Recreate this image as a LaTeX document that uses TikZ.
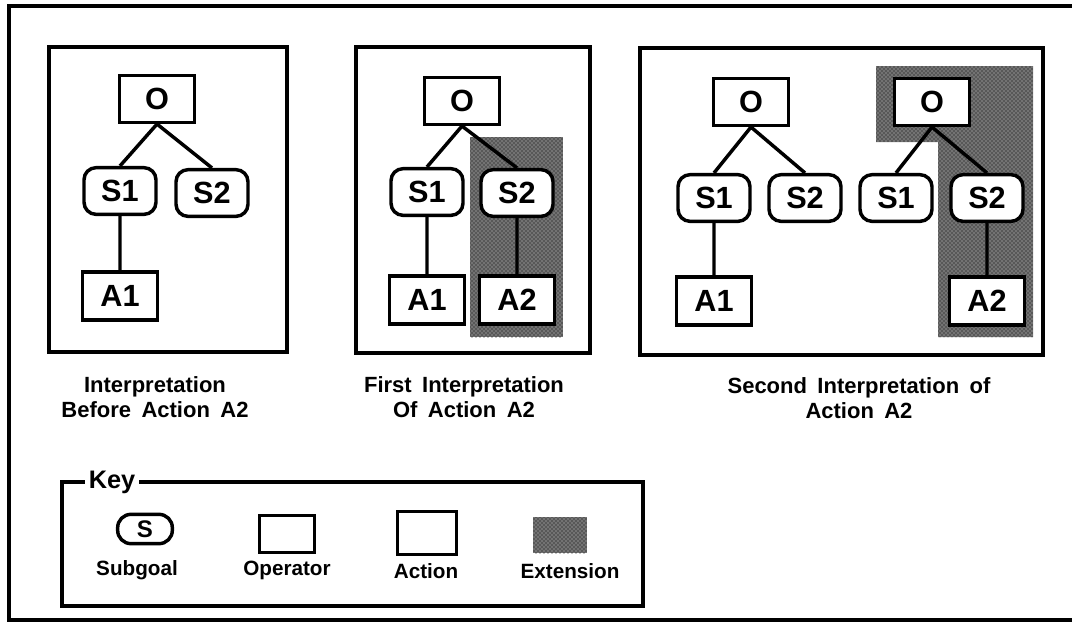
\documentclass[tikz,border=0pt]{standalone}
\usepackage{fontspec}
\setmainfont{Liberation Sans}[WordSpace=1.7]
\usetikzlibrary{patterns}
\tikzset{
  box/.style={draw,line width=2.6pt,fill=white,inner sep=0pt,font=\fontsize{23}{26}\selectfont\bfseries},
  opbox/.style={box,minimum width=56pt,minimum height=35pt},
  subbox/.style={box,rounded corners=9pt,minimum width=54pt,minimum height=35pt},
  actbox/.style={box,minimum width=56pt,minimum height=36pt},
  panel/.style={line width=2.6pt},
  link/.style={line width=2.6pt},
  ext/.style={fill=black!55,postaction={pattern=crosshatch dots,pattern color=black}},
  capt/.style={font=\fontsize{16.5}{18.5}\selectfont\bfseries,align=center},
  keytext/.style={font=\fontsize{15.5}{17}\selectfont\bfseries}
}
\begin{document}
\begin{tikzpicture}[x=0.75pt,y=-0.75pt]
\useasboundingbox (0,0) rectangle (1072,629);
\draw[panel] (1072,6)--(9,6)--(9,620)--(1072,620);
\draw[panel] (49,47) rectangle (287,352);
\draw[panel] (356,47) rectangle (590,353);
\draw[panel] (640,48) rectangle (1043,355);
\fill[ext] (470,137) rectangle (563,337);
\fill[ext] (876,66)--(1033,66)--(1033,337)--(938,337)--(938,142)--(876,142)--cycle;

\node[opbox] (o1) at (157,99) {O};
\node[subbox] (s11) at (120,191) {S1};
\node[subbox] (s12) at (212,193) {S2};
\node[actbox] (a11) at (120,296) {A1};
\draw[link] (o1.south)--(s11.north) (o1.south)--(s12.north) (s11)--(a11);

\node[opbox] (o2) at (462,101) {O};
\node[subbox] (s21) at (427,192) {S1};
\node[subbox] (s22) at (517,193) {S2};
\node[actbox] (a21) at (427,300) {A1};
\node[actbox] (a22) at (517,300) {A2};
\draw[link] (o2.south)--(s21.north) (o2.south)--(s22.north) (s21)--(a21) (s22)--(a22);

\node[opbox] (o31) at (751,102) {O};
\node[subbox] (s31) at (714,198) {S1};
\node[subbox] (s32) at (805,198) {S2};
\node[actbox] (a31) at (714,301) {A1};
\node[opbox] (o32) at (932,102) {O};
\node[subbox] (s33) at (896,198) {S1};
\node[subbox] (s34) at (987,198) {S2};
\node[actbox] (a32) at (987,301) {A2};
\draw[link] (o31.south)--(s31.north) (o31.south)--(s32.north) (s31)--(a31);
\draw[link] (o32.south)--(s33.north) (o32.south)--(s34.north) (s34)--(a32);

\node[capt] (l1) at (155,397) {Interpretation\\Before Action A2};
\node[capt] (l2) at (464,397) {First Interpretation\\Of Action A2};
\node[capt] (l3) at (859,398) {Second Interpretation of\\Action A2};

\draw[panel] (62,482) rectangle (643,606);
\node[fill=white,inner sep=3pt,font=\fontsize{19}{21}\selectfont\bfseries] (key) at (112,482) {Key};
\node[box,rounded corners=10pt,minimum width=41pt,minimum height=22pt,font=\fontsize{18}{20}\selectfont\bfseries] (ks) at (145,529) {S};
\node[box,minimum width=41pt,minimum height=28pt] (kop) at (287,534) {};
\node[box,minimum width=44pt,minimum height=32pt] (kact) at (427,533) {};
\node[ext,minimum width=40pt,minimum height=27pt] (kext) at (560,535) {};
\node[keytext] (lsub) at (137,570) {Subgoal};
\node[keytext] (lop) at (287,570) {Operator};
\node[keytext] (lact) at (426,571) {Action};
\node[keytext] (lext) at (570,571) {Extension};
\end{tikzpicture}
\end{document}
